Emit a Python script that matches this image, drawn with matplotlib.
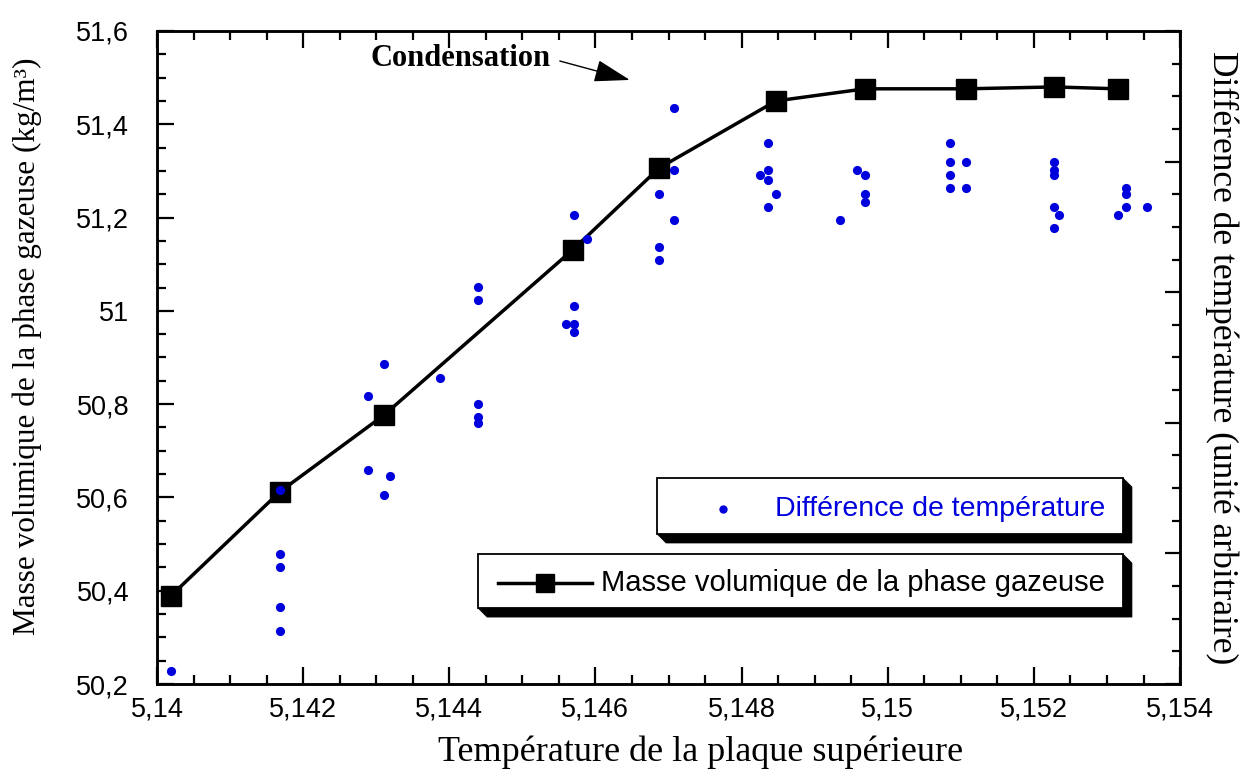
import matplotlib
matplotlib.use("Agg")
import matplotlib.pyplot as plt
from matplotlib.patches import Polygon, Rectangle
from matplotlib.lines import Line2D
from matplotlib.ticker import MultipleLocator, FixedLocator, FixedFormatter

# Masse volumique de la phase gazeuse (axe gauche)
temp = [5.14019, 5.14168, 5.14311, 5.14569, 5.14687, 5.14847, 5.14969, 5.15107, 5.15228, 5.15315]
density = [50.389, 50.612, 50.777, 51.131, 51.306, 51.450, 51.476, 51.476, 51.480, 51.476]

# Difference de temperature (axe droit, unite arbitraire 0-5)
diff_x = [5.14019,
          5.14168, 5.14168, 5.14168, 5.14168, 5.14168,
          5.14289, 5.14289,
          5.14311, 5.14311,
          5.14319,
          5.14387,
          5.14439, 5.14439, 5.14439, 5.14439, 5.14439,
          5.14571, 5.14571, 5.14571, 5.14571,
          5.14560,
          5.14588,
          5.14687, 5.14687, 5.14687,
          5.14708, 5.14708, 5.14708,
          5.14825,
          5.14836, 5.14836, 5.14836, 5.14836,
          5.14847,
          5.14935,
          5.14958,
          5.14969, 5.14969, 5.14969,
          5.15085, 5.15085, 5.15085, 5.15085,
          5.15107, 5.15107,
          5.15228, 5.15228, 5.15228, 5.15228, 5.15228,
          5.15234,
          5.15315,
          5.15326, 5.15326, 5.15326,
          5.15355]
diff_y = [0.10,
          1.485, 0.995, 0.896, 0.590, 0.406,
          1.639, 2.205,
          1.447, 2.450,
          1.593,
          2.343,
          3.040, 2.940, 2.144, 2.044, 1.998,
          3.591, 2.894, 2.757, 2.695,
          2.757,
          3.407,
          3.752, 3.346, 3.247,
          4.410, 3.936, 3.553,
          3.897,
          4.142, 3.936, 3.859, 3.652,
          3.752,
          3.553,
          3.936,
          3.897, 3.752, 3.691,
          4.142, 3.997, 3.897, 3.798,
          3.997, 3.798,
          3.997, 3.936, 3.897, 3.652, 3.492,
          3.591,
          3.591,
          3.798, 3.752, 3.652,
          3.652]

x_ticks = [5.140, 5.142, 5.144, 5.146, 5.148, 5.150, 5.152, 5.154]
x_tick_labels = ['5,14', '5,142', '5,144', '5,146', '5,148', '5,15', '5,152', '5,154']
y_ticks = [50.2, 50.4, 50.6, 50.8, 51.0, 51.2, 51.4, 51.6]
y_tick_labels = ['50,2', '50,4', '50,6', '50,8', '51', '51,2', '51,4', '51,6']

BLUE = '#0000DD'
SERIF = 'Liberation Serif'
plt.rcParams['font.family'] = ['Liberation Sans', 'DejaVu Sans']


def draw_key(ax, x0, y0, x1, y1, dpx=9):
    # boite de legende avec ombre portee noire
    dx = dpx / (ax.bbox.width)
    dy = dpx / (ax.bbox.height)
    shadow = Polygon([(x0, y0), (x0 + dx, y0 - dy), (x1 + dx, y0 - dy),
                      (x1 + dx, y1 - dy), (x1, y1), (x1, y0)],
                     closed=True, transform=ax.transAxes, fc='black', ec='black',
                     lw=0.5, clip_on=False, zorder=10)
    box = Rectangle((x0, y0), x1 - x0, y1 - y0, transform=ax.transAxes,
                    fc='white', ec='black', lw=1.3, clip_on=False, zorder=11)
    ax.add_patch(shadow)
    ax.add_patch(box)


fig = plt.figure(figsize=(12.44, 7.82), dpi=100)
ax = fig.add_axes([0.1262, 0.1253, 0.8224, 0.8351])

ax.plot(temp, density, '-', color='black', lw=2.5, marker='s', ms=14,
        mfc='black', mec='black', zorder=3)

ax.set_xlim(5.140, 5.154)
ax.set_ylim(50.2, 51.6)
ax.xaxis.set_major_locator(FixedLocator(x_ticks))
ax.xaxis.set_major_formatter(FixedFormatter(x_tick_labels))
ax.xaxis.set_minor_locator(MultipleLocator(0.0005))
ax.yaxis.set_major_locator(FixedLocator(y_ticks))
ax.yaxis.set_major_formatter(FixedFormatter(y_tick_labels))
ax.yaxis.set_minor_locator(MultipleLocator(0.05))
ax.tick_params(axis='x', which='both', direction='in', top=True, bottom=True,
               labelsize=19.5, pad=9)
ax.tick_params(axis='y', which='both', direction='in', left=True, right=False,
               labelsize=19.5, pad=20)
ax.tick_params(which='major', length=12, width=1.6)
ax.tick_params(which='minor', length=6.5, width=1.6)
for s in ax.spines.values():
    s.set_linewidth(1.8)

ax.set_xlabel('Température de la plaque supérieure', family=SERIF, fontsize=26)
ax.set_ylabel('Masse volumique de la phase gazeuse (kg/m³)', family=SERIF, fontsize=22.5)
ax.xaxis.set_label_coords(0.531, -0.104)
ax.yaxis.set_label_coords(-0.127, 0.517)
ax.xaxis.label.set_va('center')
ax.yaxis.label.set_va('center')

ax2 = ax.twinx()
ax2.plot(diff_x, diff_y, 'o', color=BLUE, ms=6.6, mec='none', zorder=4)
ax2.set_ylim(0, 5)
ax2.yaxis.set_major_locator(MultipleLocator(1))
ax2.yaxis.set_minor_locator(MultipleLocator(0.25))
ax2.tick_params(axis='y', which='both', direction='in', labelright=False)
ax2.tick_params(which='major', length=11, width=1.6)
ax2.tick_params(which='minor', length=6, width=1.6)
for s in ax2.spines.values():
    s.set_linewidth(1.8)
ax2.set_ylabel('Différence de température (unité arbitraire)', family=SERIF,
               fontsize=25.5, rotation=270)
ax2.yaxis.set_label_coords(1.041, 0.5)
ax2.yaxis.label.set_va('center')

ax.annotate('Condensation', xy=(5.14647, 51.495), xytext=(5.14415, 51.525),
            ha='center', va='baseline', family=SERIF, fontweight='bold', fontsize=22,
            arrowprops=dict(arrowstyle='-|>,head_length=0.9,head_width=0.28',
                            mutation_scale=25, lw=1.0, color='black',
                            relpos=(1.0, 0.5), shrinkA=5, shrinkB=0))

# legendes (deux boites separees)
draw_key(ax2, 0.4888, 0.2297, 0.9442, 0.3155)
ax2.add_line(Line2D([0.553], [0.268], marker='o', color=BLUE, ms=6, mec='none',
                    transform=ax2.transAxes, clip_on=False, zorder=12))
ax2.text(0.9267, 0.268, 'Différence de température', color=BLUE, fontsize=20.5,
         ha='right', va='center', transform=ax2.transAxes, zorder=12)

draw_key(ax2, 0.3138, 0.1163, 0.9442, 0.1990)
ax2.add_line(Line2D([0.333, 0.425], [0.1547, 0.1547], color='black', lw=2.5,
                    transform=ax2.transAxes, clip_on=False, zorder=12))
ax2.add_line(Line2D([0.379], [0.1547], marker='s', color='black', ms=13.5,
                    transform=ax2.transAxes, clip_on=False, zorder=12))
ax2.text(0.9267, 0.1547, 'Masse volumique de la phase gazeuse', color='black',
         fontsize=21, ha='right', va='center', transform=ax2.transAxes, zorder=12)

fig.savefig('out.png', dpi=100)
